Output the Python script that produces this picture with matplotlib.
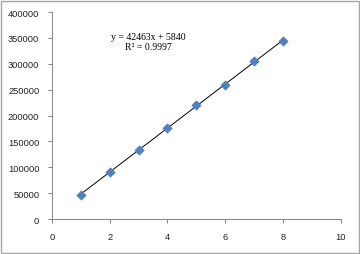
import matplotlib
matplotlib.use('Agg')
from matplotlib import pyplot as plt
from matplotlib.patches import Rectangle
import numpy as np

# data
x_vals = [1, 2, 3, 4, 5, 6, 7, 8]
y_vals = [46000, 91500, 134000, 175500, 221000, 259500, 304500, 344000]
x_ticks = [0, 2, 4, 6, 8, 10]
y_ticks = [0, 50000, 100000, 150000, 200000, 250000, 300000, 350000, 400000]
eq_text = "y = 42463x + 5840\nR\u00b2 = 0.9997"

fig = plt.figure(figsize=(3.6, 2.55), dpi=100)
ax = fig.add_axes([0.144, 0.137, 0.803, 0.812])

# linear trendline through the points
coef = np.polyfit(x_vals, y_vals, 1)
xl = np.array([x_vals[0], x_vals[-1]])
ax.plot(xl, np.polyval(coef, xl), color='black', lw=0.7, zorder=2)

ax.scatter(x_vals, y_vals, marker='D', s=22, color='#4F81BD',
           edgecolors='#4A7EBB', linewidths=0.5, zorder=3)

ax.text(3.33, 343000, eq_text, family='Liberation Serif', fontsize=7,
        ha='center', va='center', linespacing=1.2)

ax.set_xlim(0, 10)
ax.set_ylim(0, 400000)
ax.set_xticks(x_ticks)
ax.set_yticks(y_ticks)
ax.set_xticklabels([str(t) for t in x_ticks])
ax.set_yticklabels([str(t) for t in y_ticks])

for s in ['top', 'right']:
    ax.spines[s].set_visible(False)
for s in ['left', 'bottom']:
    ax.spines[s].set_color('#868686')
    ax.spines[s].set_linewidth(0.7)
ax.tick_params(direction='out', length=3, width=0.7, color='#868686',
               labelsize=6.7, labelcolor='#222222', pad=6)
for lab in ax.get_xticklabels() + ax.get_yticklabels():
    lab.set_family('Liberation Sans')

# chart border
fig.patches.append(Rectangle((0.003, 0.004), 0.993, 0.99, transform=fig.transFigure,
                             fill=False, edgecolor='#A6A6A6', lw=1.0))

fig.savefig('out.png', dpi=100)
